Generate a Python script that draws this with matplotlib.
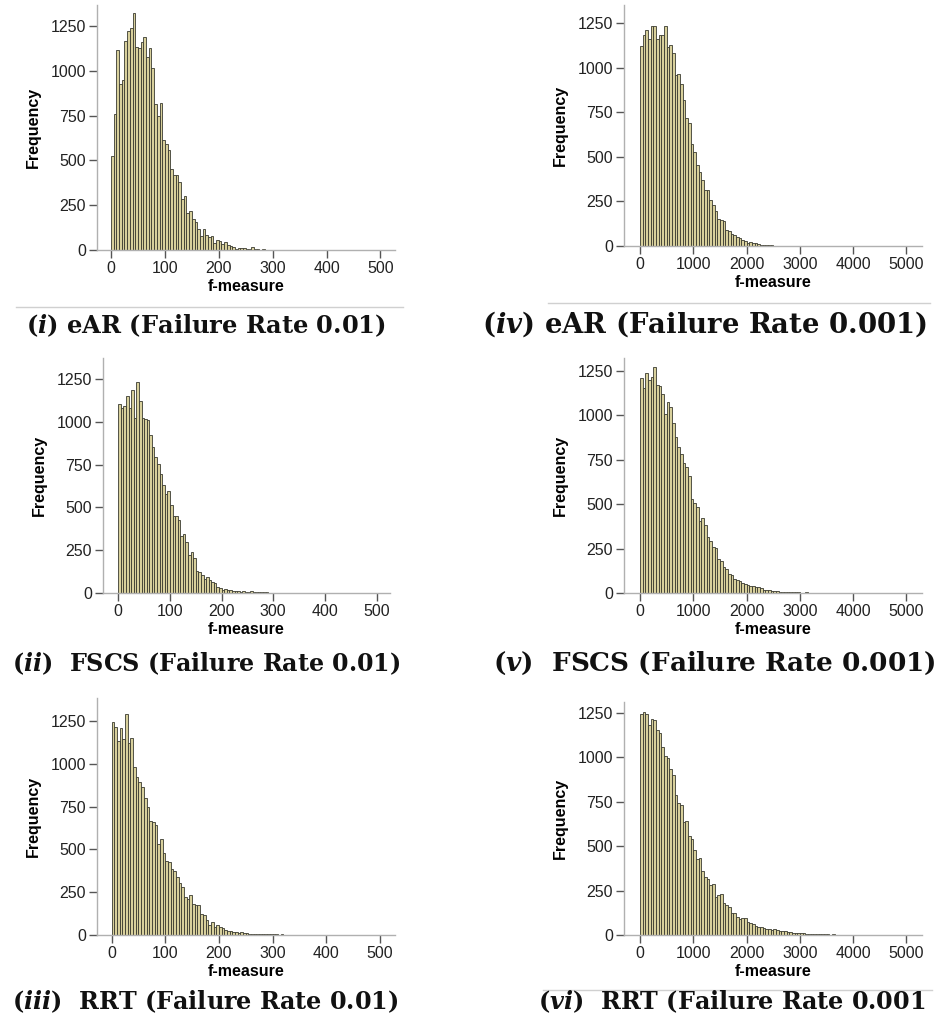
import matplotlib
matplotlib.use("Agg")
import matplotlib.pyplot as plt
from matplotlib.lines import Line2D
import numpy as np

plt.rcParams['font.family'] = ['Liberation Sans', 'DejaVu Sans']
plt.rcParams['mathtext.fontset'] = 'custom'
plt.rcParams['mathtext.it'] = 'DejaVu Serif:italic:bold'
plt.rcParams['mathtext.rm'] = 'DejaVu Serif:bold'
plt.rcParams['mathtext.bf'] = 'DejaVu Serif:bold'

# ---------------- data (histogram counts) ----------------
# failure rate 0.01 -> bin width 5, failure rate 0.001 -> bin width 50
bin_small = 5
bin_large = 50

ear_001 = [522, 761, 1116, 924, 948, 1168, 1222, 1237, 1325, 1131, 1125, 1163, 1187, 1079,
           1129, 1015, 817, 750, 821, 616, 593, 556, 453, 416, 416, 379, 285, 300, 205, 220,
           175, 158, 118, 78, 115, 85, 75, 80, 40, 58, 50, 35, 45, 30, 22, 15, 8, 10, 12, 10,
           6, 5, 14, 4, 3, 2, 3, 2, 1, 1, 1, 0, 1]

fscs_001 = [1104, 1084, 1094, 1153, 1081, 1188, 1022, 1231, 1120, 1026, 1016, 1010, 925, 853,
            794, 755, 695, 629, 580, 594, 516, 452, 448, 428, 331, 345, 296, 224, 237, 204,
            130, 123, 107, 82, 93, 74, 64, 58, 35, 29, 16, 25, 20, 18, 12, 14, 10, 8, 10, 6,
            5, 12, 7, 5, 6, 4, 5, 3, 2, 2, 2, 1, 2, 1, 1, 0, 1]

rrt_001 = [1242, 1217, 1133, 1207, 1143, 1289, 1124, 1153, 983, 925, 896, 867, 798, 750, 666,
           662, 642, 531, 559, 477, 432, 429, 383, 376, 341, 301, 283, 224, 208, 234, 181, 175,
           175, 122, 117, 88, 58, 78, 49, 58, 45, 39, 29, 25, 24, 20, 16, 9, 16, 13, 9, 6, 8,
           8, 4, 6, 6, 4, 4, 3, 5, 3, 2, 3, 2, 2, 1, 2, 1, 1, 2, 1, 1, 1, 1, 0, 1, 0, 1, 1,
           0, 0, 1]

ear_0001 = [1121, 1186, 1214, 1164, 1233, 1235, 1164, 1184, 1184, 1235, 1117, 1130, 1080, 958,
            964, 911, 821, 720, 690, 571, 528, 453, 415, 372, 312, 316, 256, 228, 196, 153,
            144, 138, 88, 82, 69, 60, 50, 45, 36, 28, 19, 24, 19, 15, 11, 7, 5, 4, 3, 3, 2,
            2, 1, 1, 1, 1, 0, 1, 0, 1, 1, 0, 0, 1]

fscs_0001 = [1207, 1151, 1235, 1197, 1212, 1272, 1169, 1166, 1119, 1007, 1076, 1048, 954, 879,
             819, 780, 730, 711, 655, 528, 505, 483, 402, 421, 384, 314, 290, 258, 253, 191,
             178, 146, 135, 107, 103, 79, 75, 65, 56, 51, 43, 41, 37, 34, 32, 28, 19, 17, 15,
             12, 11, 10, 8, 8, 6, 4, 5, 3, 3, 4, 2, 2, 3, 1, 2, 1, 1, 2, 1, 1, 0, 1, 1, 0, 1,
             0, 0, 1]

rrt_0001 = [1246, 1252, 1246, 1181, 1215, 1209, 1153, 1134, 1059, 1008, 995, 933, 901, 787,
            740, 731, 637, 643, 555, 540, 480, 429, 433, 362, 328, 313, 281, 285, 215, 225,
            231, 178, 169, 159, 125, 122, 99, 88, 94, 98, 75, 69, 62, 51, 47, 43, 37, 36, 34,
            28, 32, 28, 24, 22, 21, 19, 15, 13, 11, 13, 9, 11, 8, 8, 6, 8, 5, 4, 6, 3, 3, 2,
            3, 2, 1, 2, 1, 1, 1, 0, 1, 1, 0, 1]

yticks = [0, 250, 500, 750, 1000, 1250]
xticks_small = [0, 100, 200, 300, 400, 500]
xticks_large = [0, 1000, 2000, 3000, 4000, 5000]

captions = {
    'i': r"($i$) eAR (Failure Rate 0.01)",
    'ii': r"($ii$)  FSCS (Failure Rate 0.01)",
    'iii': r"($iii$)  RRT (Failure Rate 0.01)",
    'iv': r"($iv$) eAR (Failure Rate 0.001)",
    'v': r"($v$)  FSCS (Failure Rate 0.001)",
    'vi': r"($vi$)  RRT (Failure Rate 0.001",
}

# ---------------- layout ----------------
W, H = 940, 1023
fig = plt.figure(figsize=(W / 100, H / 100), dpi=100)
fig.patch.set_facecolor('white')

BAR_FACE = '#d8d09c'
BAR_EDGE = '#3a3a30'
SPINE = '#b0b0b0'
TICK = '#555555'


def px_axes(left, right, top, bottom):
    return fig.add_axes([left / W, 1 - bottom / H, (right - left) / W, (bottom - top) / H])


def draw(ax, counts, binw, xlim, ylim, xticks):
    edges = np.arange(len(counts)) * binw
    ax.bar(edges, counts, width=binw, align='edge', color=BAR_FACE,
           edgecolor=BAR_EDGE, linewidth=0.6)
    ax.set_xlim(*xlim)
    ax.set_ylim(*ylim)
    ax.set_xticks(xticks)
    ax.set_yticks(yticks)
    ax.set_xticklabels([str(t) for t in xticks])
    ax.set_yticklabels([str(t) for t in yticks])
    for s in ['top', 'right']:
        ax.spines[s].set_visible(False)
    for s in ['left', 'bottom']:
        ax.spines[s].set_color(SPINE)
        ax.spines[s].set_linewidth(1.0)
    ax.tick_params(axis='both', direction='out', length=6, width=1.0, color=TICK,
                   labelsize=11.5, labelcolor='#222222', pad=2)
    ax.set_xlabel('f-measure', fontsize=11.5, fontweight='bold', labelpad=2)
    ax.set_ylabel('Frequency', fontsize=11.5, fontweight='bold', labelpad=7)
    ax.patch.set_alpha(0)


ax1 = px_axes(97, 395, 5, 250)
draw(ax1, ear_001, bin_small, (-26, 527), (0, 1367), xticks_small)
ax2 = px_axes(103, 390, 358, 593)
draw(ax2, fscs_001, bin_small, (-29.6, 526), (0, 1374), xticks_small)
ax3 = px_axes(97, 395, 698, 935)
draw(ax3, rrt_001, bin_small, (-27.4, 528.5), (0, 1384), xticks_small)

ax4 = px_axes(624, 922, 5, 246)
draw(ax4, ear_0001, bin_large, (-300, 5291), (0, 1352), xticks_large)
ax5 = px_axes(624, 922, 358, 593)
draw(ax5, fscs_0001, bin_large, (-300, 5291), (0, 1321), xticks_large)
ax6 = px_axes(624, 922, 702, 935)
draw(ax6, rrt_0001, bin_large, (-300, 5291), (0, 1311), xticks_large)

# separator lines
for (x0, x1, y) in [(16, 403, 306.5), (548, 930, 302.5), (543, 932, 990)]:
    fig.add_artist(Line2D([x0 / W, x1 / W], [1 - y / H, 1 - y / H],
                          color='#d0d0d0', linewidth=1.0))

# captions
cap_kw = dict(fontweight='bold', family='DejaVu Serif',
              ha='left', va='baseline', color='#111111')
for key, x, y, fs in [('i', 26, 333, 17.4), ('ii', 12, 671, 17.1), ('iii', 12, 1009, 17.2),
                      ('iv', 482, 333, 19.8), ('v', 493, 671, 18.9), ('vi', 538, 1009, 17.2)]:
    fig.text(x / W, 1 - y / H, captions[key], fontsize=fs, **cap_kw)

fig.savefig('out.png', dpi=100, facecolor='white')
